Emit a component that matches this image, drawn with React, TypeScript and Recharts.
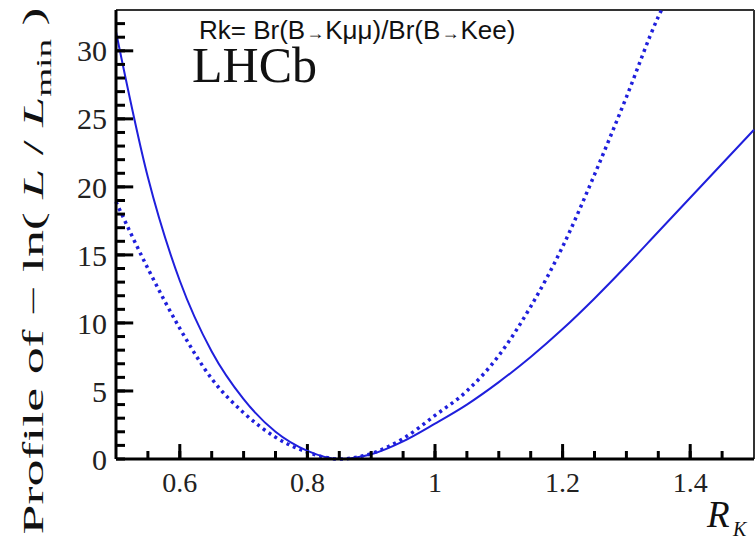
import { LineChart, Line, XAxis, YAxis, ReferenceLine } from "recharts";

// solid: full likelihood profile
const rkSolid = [
  0.5, 0.55, 0.6, 0.65, 0.7, 0.75, 0.8, 0.85, 0.9, 0.95, 1.0,
  1.05, 1.1, 1.15, 1.2, 1.25, 1.3, 1.35, 1.4, 1.45, 1.5,
];
const nllSolid = [
  31.4, 20.7, 13.1, 7.9, 4.4, 2.0, 0.6, 0.0, 0.35, 1.3, 2.6,
  4.0, 5.65, 7.5, 9.55, 11.8, 14.2, 16.7, 19.2, 21.7, 24.2,
];
// dotted: statistical only, leaves the frame at the top near 1.355
const rkDotted = [
  0.5, 0.55, 0.6, 0.65, 0.7, 0.75, 0.8, 0.85, 0.9, 0.95, 1.0,
  1.05, 1.1, 1.15, 1.2, 1.25, 1.3, 1.35, 1.355,
];
const nllDotted = [
  18.9, 14.0, 9.6, 5.9, 3.4, 1.6, 0.5, 0.0, 0.4, 1.5, 3.2,
  5.0, 7.6, 11.2, 15.6, 20.9, 26.6, 32.5, 33.0,
];

const xTicks = [
  0.55, 0.6, 0.65, 0.7, 0.75, 0.8, 0.85, 0.9, 0.95, 1,
  1.05, 1.1, 1.15, 1.2, 1.25, 1.3, 1.35, 1.4, 1.45,
];
const xLabels = [0.6, 0.8, 1, 1.2, 1.4];
const yTicks = [
  0, 1, 2, 3, 4, 5, 6, 7, 8, 9, 10, 11, 12, 13, 14, 15, 16,
  17, 18, 19, 20, 21, 22, 23, 24, 25, 26, 27, 28, 29, 30, 31, 32,
];
const yLabels = [5, 10, 15, 20, 25, 30];

const BLUE = "#1f1fdc";
const SERIF = "'Liberation Serif', 'DejaVu Serif', serif";
const SANS = "'Liberation Sans', Arial, sans-serif";

// extra length of major ticks, in data units (x: ~638 px per unit, y: ~13.6 px per unit)
const X_MAJOR = 1.1;
const Y_MAJOR = 0.027;

const solidData = rkSolid.map((x, i) => ({ rk: x, solid: nllSolid[i] }));
const dottedData = rkDotted.map((x, i) => ({ rk: x, dotted: nllDotted[i] }));

const YLabel = () => (
  <text
    transform="translate(43,271) rotate(-90)"
    textAnchor="middle"
    fontFamily={SERIF}
    fontSize={29}
    fill="#111"
    textLength={527}
    lengthAdjust="spacingAndGlyphs"
  >
    Profile of − ln( <tspan fontStyle="italic">L</tspan> / <tspan fontStyle="italic">L</tspan>
    <tspan fontSize={20} dy={8}>min</tspan>
    <tspan dy={-8}> )</tspan>
  </text>
);

const XLabel = () => (
  <g fontFamily={SERIF} fontStyle="italic" fill="#111">
    <text x={707} y={527} fontSize={37}>R</text>
    <text x={733} y={536} fontSize={20}>K</text>
  </g>
);

const TitleBlock = () => (
  <g fill="#111">
    <text x={199} y={39} fontFamily={SANS} fontSize={26}>
      Rk= Br(B<tspan fontSize={18} dx={1}>→</tspan><tspan dx={1}>Kμμ)/Br(B</tspan>
      <tspan fontSize={18} dx={1}>→</tspan><tspan dx={1}>Kee)</tspan>
    </text>
    <text x={192} y={82} fontFamily={SERIF} fontSize={50}>
      LHCb
    </text>
  </g>
);

export default function App() {
  return (
    <div style={{ position: "absolute", left: 0, top: 0, width: 756, height: 539, background: "#fff" }}>
      <LineChart width={756} height={539} data={solidData} margin={{ top: 10, right: 2, left: 0, bottom: 0 }}>
        <XAxis
          dataKey="rk"
          type="number"
          domain={[0.5, 1.5]}
          ticks={xTicks}
          interval={0}
          height={80}
          tickSize={-8}
          tickMargin={21}
          tickLine={{ stroke: "black", strokeWidth: 3 }}
          axisLine={{ stroke: "black", strokeWidth: 3 }}
          tick={{ fontFamily: SERIF, fontSize: 28, fill: "#222" }}
          tickFormatter={(v: number) => (xLabels.includes(v) ? String(v) : "")}
          label={<XLabel />}
        />
        <YAxis
          type="number"
          domain={[0, 33]}
          ticks={yTicks}
          interval={0}
          width={116}
          tickSize={-9}
          tickMargin={18}
          tickLine={{ stroke: "black", strokeWidth: 3 }}
          axisLine={{ stroke: "black", strokeWidth: 3 }}
          tick={{ fontFamily: SERIF, fontSize: 30, fill: "#222" }}
          tickFormatter={(v: number) => (v % 5 === 0 ? String(v) : "")}
          label={<YLabel />}
        />
        <ReferenceLine y={33} stroke="#333" strokeWidth={2} label={<TitleBlock />} />
        <ReferenceLine x={1.5} stroke="#333" strokeWidth={2} />
        {xLabels.map((v) => (
          <ReferenceLine
            key={`xt-${v}`}
            segment={[
              { x: v, y: 0 },
              { x: v, y: X_MAJOR },
            ]}
            stroke="black"
            strokeWidth={3}
          />
        ))}
        {yLabels.map((v) => (
          <ReferenceLine
            key={`yt-${v}`}
            segment={[
              { x: 0.5, y: v },
              { x: 0.5 + Y_MAJOR, y: v },
            ]}
            stroke="black"
            strokeWidth={3}
          />
        ))}
        <Line
          data={dottedData}
          dataKey="dotted"
          type="monotone"
          stroke={BLUE}
          strokeWidth={3.5}
          strokeDasharray="3 4"
          dot={false}
          isAnimationActive={false}
        />
        <Line
          dataKey="solid"
          type="monotone"
          stroke={BLUE}
          strokeWidth={2}
          dot={false}
          isAnimationActive={false}
        />
      </LineChart>
    </div>
  );
}
